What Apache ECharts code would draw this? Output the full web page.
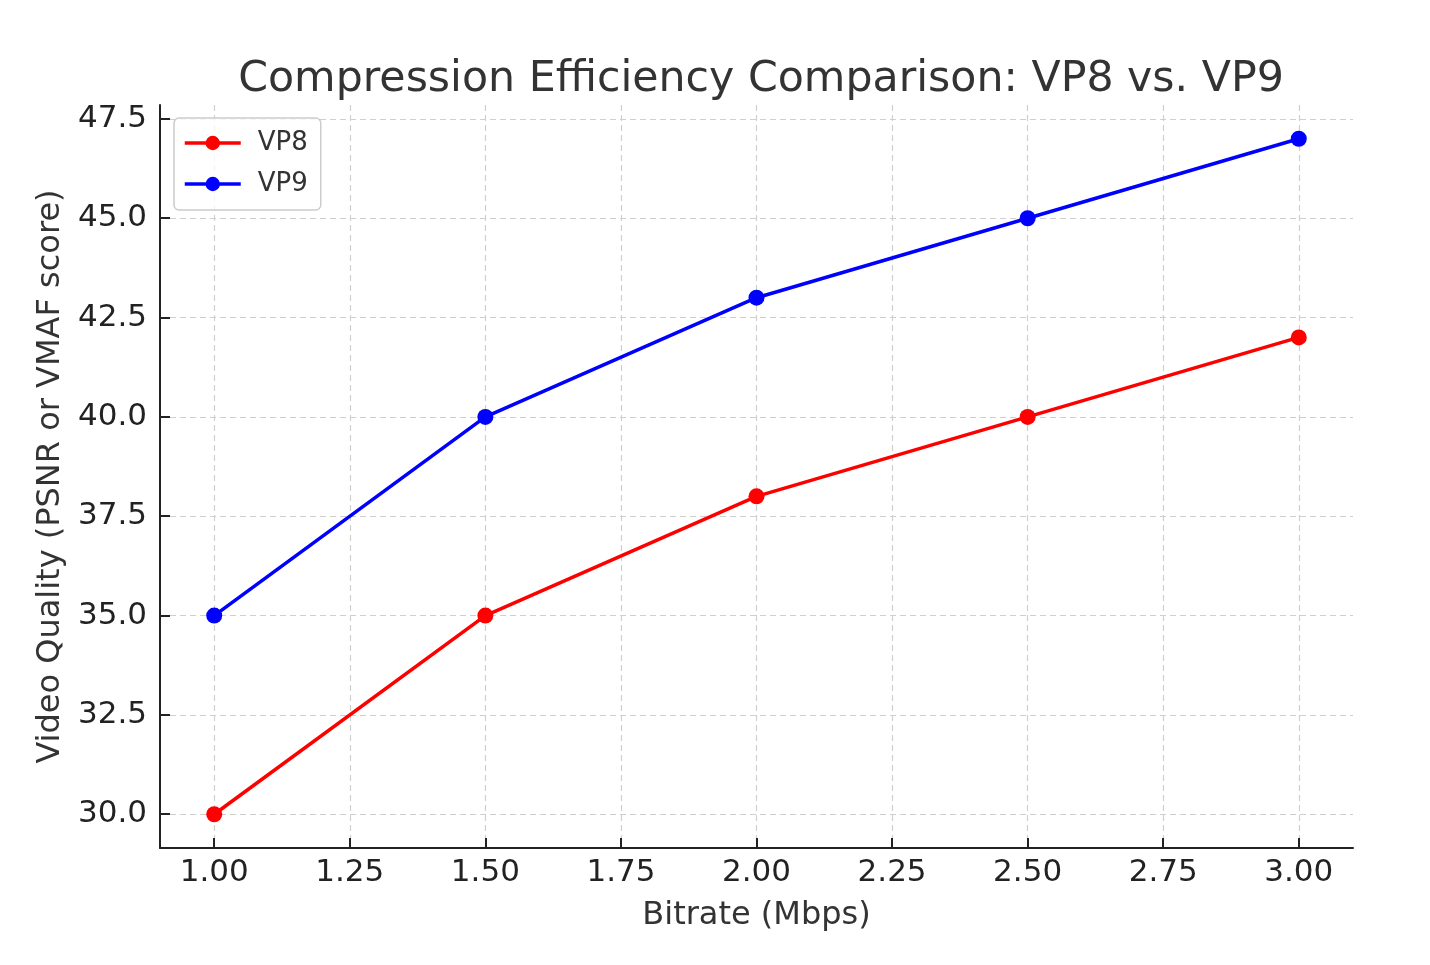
<!DOCTYPE html>
<html>
<head>
<meta charset="utf-8">
<script src="https://cdn.jsdelivr.net/npm/echarts@6/dist/echarts.min.js"></script>
<style>
  html,body{margin:0;padding:0;background:#fff;}
  #main{width:1430px;height:965px;}
</style>
</head>
<body>
<div id="main"></div>
<script>
// data
let bitrates=[1.0,1.5,2.0,2.5,3.0];
let vp8=[30,35,38,40,42];
let vp9=[35,40,43,45,47];
let yTicks=[30,32.5,35,37.5,40,42.5,45,47.5];
let xTicks=[1.0,1.25,1.5,1.75,2.0,2.25,2.5,2.75,3.0];

let font='DejaVu Sans';
let chart=echarts.init(document.getElementById('main'));

let pairs=function(ys){ return bitrates.map((x,i)=>[x,ys[i]]); };

let option={
  animation:false,
  title:{
    text:'Compression Efficiency Comparison: VP8 vs. VP9',
    left:756,
    textAlign:'center',
    top:53,
    textStyle:{fontFamily:font,fontSize:42.7,fontWeight:'normal',color:'#333'}
  },
  legend:{
    data:['VP8','VP9'],
    orient:'vertical',
    left:174,
    top:118,
    padding:[12,13,13,9],
    itemWidth:56,
    itemHeight:18,
    itemGap:15,
    borderColor:'#cccccc',
    borderWidth:1.5,
    borderRadius:5,
    backgroundColor:'rgba(255,255,255,0.8)',
    lineStyle:{width:3.5},
    textStyle:{fontFamily:font,fontSize:26,color:'#333',padding:[0,0,0,12]}
  },
  grid:{left:160,right:77,top:105,bottom:117,containLabel:false},
  xAxis:{
    type:'value',
    min:0.9,max:3.1,
    name:'Bitrate (Mbps)',
    nameLocation:'middle',
    nameGap:52,
    nameTextStyle:{fontFamily:font,fontSize:32,color:'#333'},
    axisLine:{show:true,onZero:false,lineStyle:{color:'#222',width:2}},
    axisTick:{show:true,inside:true,length:10,lineStyle:{color:'#222',width:2},customValues:xTicks},
    axisLabel:{fontFamily:font,fontSize:31,color:'#222',margin:9,customValues:xTicks,
      formatter:v=>v.toFixed(2)},
    splitLine:{show:true,lineStyle:{color:'#cfcfcf',type:[6,4],width:1.2}}
  },
  yAxis:{
    type:'value',
    min:29.15,max:47.85,
    name:'Video Quality (PSNR or VMAF score)',
    nameLocation:'middle',
    nameGap:93,
    nameTextStyle:{fontFamily:font,fontSize:32,color:'#333'},
    axisLine:{show:true,onZero:false,lineStyle:{color:'#222',width:2}},
    axisTick:{show:true,inside:true,length:10,lineStyle:{color:'#222',width:2},customValues:yTicks},
    axisLabel:{fontFamily:font,fontSize:31,color:'#222',margin:13,customValues:yTicks,
      formatter:v=>v.toFixed(1)},
    splitLine:{show:true,lineStyle:{color:'#cfcfcf',type:[6,4],width:1.2}}
  },
  series:[
    {name:'VP8',type:'line',data:pairs(vp8),symbol:'circle',symbolSize:16,
      lineStyle:{color:'#ff0000',width:3.5},itemStyle:{color:'#ff0000'}},
    {name:'VP9',type:'line',data:pairs(vp9),symbol:'circle',symbolSize:16,
      lineStyle:{color:'#0000ff',width:3.5},itemStyle:{color:'#0000ff'}}
  ]
};

chart.setOption(option);
</script>
</body>
</html>
